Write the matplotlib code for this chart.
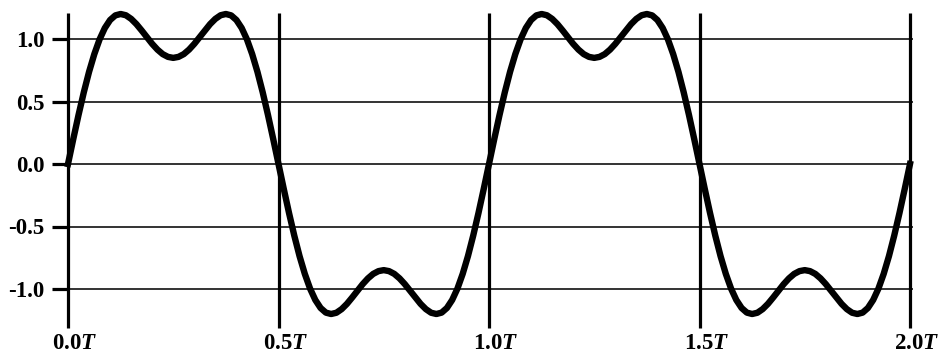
"""Two periods of a band-limited square wave (fundamental + 3rd harmonic)."""

import matplotlib
matplotlib.use("Agg")
import matplotlib.pyplot as plt

DPI = 100

# Time axis in units of the period T, sampled every T/80.
t_values = [k / 80 for k in range(161)]

# Signal values, one sample every T/80.
y_values = [
    0.000, 0.199, 0.392, 0.573, 0.737, 0.879, 0.997, 1.088, 1.152, 1.189,
    1.200, 1.190, 1.161, 1.119, 1.068, 1.014, 0.961, 0.915, 0.879, 0.857,
    0.849, 0.857, 0.879, 0.915, 0.961, 1.014, 1.068, 1.119, 1.161, 1.190,
    1.200, 1.189, 1.152, 1.088, 0.997, 0.879, 0.737, 0.573, 0.392, 0.199,
    0.000, -0.199, -0.392, -0.573, -0.737, -0.879, -0.997, -1.088, -1.152, -1.189,
    -1.200, -1.190, -1.161, -1.119, -1.068, -1.014, -0.961, -0.915, -0.879, -0.857,
    -0.849, -0.857, -0.879, -0.915, -0.961, -1.014, -1.068, -1.119, -1.161, -1.190,
    -1.200, -1.189, -1.152, -1.088, -0.997, -0.879, -0.737, -0.573, -0.392, -0.199,
    0.000, 0.199, 0.392, 0.573, 0.737, 0.879, 0.997, 1.088, 1.152, 1.189,
    1.200, 1.190, 1.161, 1.119, 1.068, 1.014, 0.961, 0.915, 0.879, 0.857,
    0.849, 0.857, 0.879, 0.915, 0.961, 1.014, 1.068, 1.119, 1.161, 1.190,
    1.200, 1.189, 1.152, 1.088, 0.997, 0.879, 0.737, 0.573, 0.392, 0.199,
    0.000, -0.199, -0.392, -0.573, -0.737, -0.879, -0.997, -1.088, -1.152, -1.189,
    -1.200, -1.190, -1.161, -1.119, -1.068, -1.014, -0.961, -0.915, -0.879, -0.857,
    -0.849, -0.857, -0.879, -0.915, -0.961, -1.014, -1.068, -1.119, -1.161, -1.190,
    -1.200, -1.189, -1.152, -1.088, -0.997, -0.879, -0.737, -0.573, -0.392, -0.199,
    0.000,
]

x_grid = [0.0, 0.5, 1.0, 1.5, 2.0]
x_labels = ["0.0$T$", "0.5$T$", "1.0$T$", "1.5$T$", "2.0$T$"]
y_grid = [-1.0, -0.5, 0.0, 0.5, 1.0]
y_labels = ["-1.0", "-0.5", "0.0", "0.5", "1.0"]

plt.rcParams["font.family"] = "Liberation Serif"
plt.rcParams["font.weight"] = "bold"
plt.rcParams["mathtext.fontset"] = "custom"
plt.rcParams["mathtext.rm"] = "Liberation Serif:bold"
plt.rcParams["mathtext.it"] = "Liberation Serif:bold:italic"
plt.rcParams["mathtext.bf"] = "Liberation Serif:bold"


def main():
    fig = plt.figure(figsize=(9.51, 3.55), dpi=DPI)
    ax = fig.add_axes([68 / 951, 27 / 355, 842 / 951, 315 / 355])
    ax.set_xlim(0, 2)
    ax.set_ylim(-1.312, 1.208)
    for s in ax.spines.values():
        s.set_visible(False)

    # Horizontal reference lines (thin) and period markers (thick).
    ax.hlines(y_grid, 0, 2.008, color="#333333", lw=1.4, clip_on=False, zorder=1)
    ax.vlines(x_grid, -1.312, 1.208, color="black", lw=2.3, clip_on=False, zorder=2)

    ax.plot(t_values, y_values, color="black", lw=4.6, clip_on=False,
            solid_joinstyle="round", zorder=3)

    ax.set_yticks(y_grid)
    ax.set_yticklabels(y_labels)
    ax.tick_params(axis="y", length=11.5, width=2.3, pad=5.5, labelsize=16.5)
    ax.set_xticks([])

    for x, lab in zip(x_grid, x_labels):
        ax.annotate(lab, xy=(x, 0), xycoords=("data", "axes fraction"),
                    xytext=(5, -11), textcoords="offset points",
                    ha="center", va="center", fontsize=16.5, fontweight="bold")

    fig.savefig("out.png", dpi=DPI)
    plt.close(fig)


if __name__ == "__main__":
    main()
